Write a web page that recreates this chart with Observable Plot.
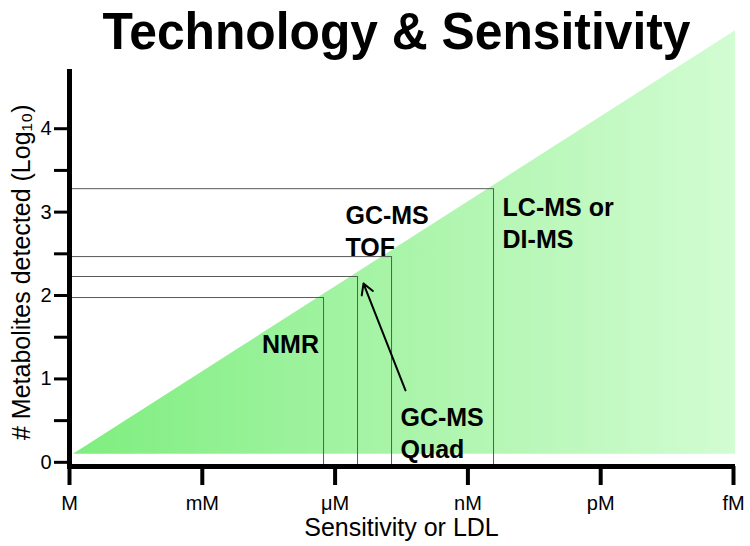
<!DOCTYPE html>
<html>
<head>
<meta charset="utf-8">
<script src="https://cdn.jsdelivr.net/npm/d3@7"></script>
<script src="https://cdn.jsdelivr.net/npm/@observablehq/plot@0.6"></script>
<style>
  html, body { margin: 0; padding: 0; background: #fff; }
  svg { overflow: visible; }
</style>
</head>
<body>
<div id="chart"></div>
<script>
// ---- data ----
const titleText = "Technology & Sensitivity";
const xLabelText = "Sensitivity or LDL";
const yLabelText = "# Metabolites detected (Log\u2081\u2080)";
const xTickLabels = ["M", "mM", "\u03bcM", "nM", "pM", "fM"];
const xTickValues = [0, 1, 2, 3, 4, 5];
const yTickValues = [0, 0.5, 1, 1.5, 2, 2.5, 3, 3.5, 4];

// technologies: sensitivity limit (x, in decades from M) and log10 metabolites detected
const techNames = ["NMR", "GC-MS Quad", "GC-MS TOF", "LC-MS or DI-MS"];
const techLimit = [1.913, 2.169, 2.425, 3.193];
const techCount = [1.976, 2.228, 2.467, 3.281];

// green wedge (triangle) corners
const wedgeX = [0.03, 5.015];
const wedgeY = [0.096, 5.174];
const wedgeBase = 0.096;

// annotation labels (data coordinates)
const labelText = ["NMR", "GC-MS\nTOF", "GC-MS\nQuad", "LC-MS or\nDI-MS"];
const labelX = [1.664, 2.078, 2.492, 3.261];
const labelY = [1.305, 3.127, 0.705, 3.223];
const labelAnchor = ["middle", "start", "start", "start"];

// arrow from "GC-MS Quad" label to its corner
const arrowFrom = [2.53, 0.862];
const arrowTo = [2.214, 2.144];

const yDomain = [-0.05, 4.71];

// ---- build tables ----
const techs = techNames.map((n, i) => ({name: n, limit: techLimit[i], count: techCount[i]}));
const wedge = wedgeX.map((x, i) => ({x, y: wedgeY[i]}));
const labels = labelText.map((t, i) => ({text: t, x: labelX[i], y: labelY[i], anchor: labelAnchor[i]}));

const font = "'Liberation Sans', Arial, Helvetica, sans-serif";

const chart = Plot.plot({
  width: 750,
  height: 546,
  marginLeft: 69,
  marginRight: 17,
  marginTop: 69,
  marginBottom: 80,
  style: {fontFamily: font, fontSize: "20px", color: "#000", background: "#fff", overflow: "visible"},
  x: {
    domain: [0, 5],
    ticks: xTickValues,
    tickFormat: (d) => xTickLabels[d],
    tickSize: 19,
    tickPadding: 10,
    label: null
  },
  y: {
    domain: yDomain,
    ticks: yTickValues,
    tickFormat: (d) => Number.isInteger(d) ? String(d) : "",
    tickSize: 15,
    tickPadding: 3,
    label: null
  },
  marks: [
    Plot.areaY(wedge, {x: "x", y1: () => wedgeBase, y2: "y", fill: "url(#wedgeGrad)", curve: "linear"}),
    Plot.ruleY(techs, {y: "count", x1: () => 0, x2: "limit", stroke: "#5a5a5a", strokeWidth: 1}),
    Plot.ruleX(techs, {x: "limit", y1: () => yDomain[0], y2: "count", stroke: "#5a5a5a", strokeWidth: 1}),
    Plot.ruleX([0], {y1: yDomain[0], y2: yDomain[1], stroke: "#000", strokeWidth: 5}),
    Plot.ruleY([yDomain[0]], {x1: -0.015, x2: 5.015, stroke: "#000", strokeWidth: 5}),
    Plot.text(labels.filter(d => d.anchor === "middle"), {
      x: "x", y: "y", text: "text", textAnchor: "middle", lineAnchor: "bottom",
      fontSize: 25, fontWeight: "bold", fill: "#000", fontFamily: font
    }),
    Plot.text(labels.filter(d => d.anchor === "start"), {
      x: "x", y: "y", text: "text", textAnchor: "start", lineAnchor: "top", lineHeight: 1.28,
      fontSize: 25, fontWeight: "bold", fill: "#000", fontFamily: font
    }),
    Plot.arrow([{x1: arrowFrom[0], y1: arrowFrom[1], x2: arrowTo[0], y2: arrowTo[1]}], {
      x1: "x1", y1: "y1", x2: "x2", y2: "y2", stroke: "#000", strokeWidth: 2, headLength: 9
    }),
    Plot.text([titleText], {
      frameAnchor: "top", lineAnchor: "bottom", dy: -21, dx: -5,
      fontSize: 52, fontWeight: "bold", fill: "#000", fontFamily: font
    }),
    Plot.text([xLabelText], {
      x: () => 2.5, y: () => -0.878, textAnchor: "middle", lineAnchor: "bottom",
      fontSize: 25, fill: "#000", fontFamily: font
    }),
    Plot.text([yLabelText], {
      x: () => -0.354, y: () => 2.28, rotate: -90, textAnchor: "middle", lineAnchor: "middle",
      fontSize: 25, fill: "#000", fontFamily: font
    })
  ]
});

// gradient definition for the wedge
const svg = d3.select(chart.tagName.toLowerCase() === "svg" ? chart : chart.querySelector("svg"));
const defs = svg.insert("defs", ":first-child");
const grad = defs.append("linearGradient").attr("id", "wedgeGrad")
  .attr("x1", "0%").attr("y1", "0%").attr("x2", "100%").attr("y2", "0%");
grad.append("stop").attr("offset", "0%").attr("stop-color", "#7eee7e");
grad.append("stop").attr("offset", "55%").attr("stop-color", "#aef5ae");
grad.append("stop").attr("offset", "100%").attr("stop-color", "#d2fcd2");

// condensed title
svg.selectAll("text").filter(function () { return this.textContent === titleText; })
  .attr("textLength", 588).attr("lengthAdjust", "spacingAndGlyphs");

// heavier axis ticks
svg.selectAll('[aria-label*="y-axis"] path, [aria-label*="y-axis"] line').style("stroke-width", "3px");
svg.selectAll('[aria-label*="x-axis"] path, [aria-label*="x-axis"] line').style("stroke-width", "4px");
svg.selectAll('[aria-label*="axis"] .domain').style("display", "none");

document.getElementById("chart").appendChild(chart);
</script>
</body>
</html>
